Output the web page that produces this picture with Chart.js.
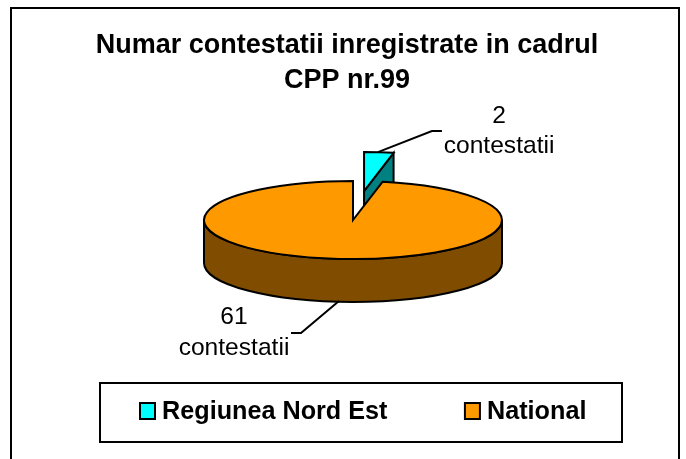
<!DOCTYPE html>
<html><head><meta charset="utf-8">
<style>html,body{margin:0;padding:0;background:#fff}#w{position:absolute;left:0;top:0;width:686px;height:459px}</style>
<script src="https://cdn.jsdelivr.net/npm/chart.js@4/dist/chart.umd.js"></script>
</head><body><div id="w"><canvas id="c" width="686" height="459"></canvas></div>
<script>
const categories = ['Regiunea Nord Est', 'National'];
const values = [2, 61];
const pointLabels = [['2', 'contestatii'], ['61', 'contestatii']];
const titleLines = ['Numar contestatii inregistrate in cadrul', 'CPP nr.99'];
const faceColors = ['#00FFFF', '#FF9900'];
const sideColors = ['#008080', '#804D00'];
const explode = [111, 0];

const squash = 39 / 149, depth = 43;
const frame = {l: 11, t: 8, r: 679, b: 480};
const legendBox = {l: 100, t: 383, r: 622, b: 442};

function ell(a) {
  const m = (a.startAngle + a.endAngle) / 2, o = a.options.offset || 0;
  return {cx: a.x + Math.cos(m) * o, cy: a.y + Math.sin(m) * o * squash, rx: a.outerRadius, ry: a.outerRadius * squash};
}
function drawSlice(ctx, a, i) {
  const e = ell(a), s = a.startAngle, t = a.endAngle, P = Math.PI;
  ctx.lineWidth = 2; ctx.strokeStyle = '#000'; ctx.lineJoin = 'miter';
  const ws = Math.max(s, 0), we = Math.min(t, P);
  if (we > ws) {
    ctx.beginPath();
    ctx.ellipse(e.cx, e.cy, e.rx, e.ry, 0, ws, we);
    ctx.ellipse(e.cx, e.cy + depth, e.rx, e.ry, 0, we, ws, true);
    ctx.closePath();
    ctx.fillStyle = sideColors[i]; ctx.fill(); ctx.stroke();
  }
  if (t - s < P) {
    const x = e.cx + e.rx * Math.cos(t), y = e.cy + e.ry * Math.sin(t);
    ctx.beginPath();
    ctx.moveTo(e.cx, e.cy); ctx.lineTo(x, y); ctx.lineTo(x, y + depth); ctx.lineTo(e.cx, e.cy + depth);
    ctx.closePath();
    ctx.fillStyle = sideColors[i]; ctx.fill(); ctx.stroke();
  }
  ctx.beginPath();
  ctx.moveTo(e.cx, e.cy);
  ctx.ellipse(e.cx, e.cy, e.rx, e.ry, 0, s, t);
  ctx.closePath();
  ctx.fillStyle = faceColors[i]; ctx.fill(); ctx.stroke();
}
function leader(ctx, pts) {
  ctx.beginPath();
  pts.forEach((p, k) => k ? ctx.lineTo(p[0], p[1]) : ctx.moveTo(p[0], p[1]));
  ctx.lineWidth = 2; ctx.strokeStyle = '#000'; ctx.stroke();
}
const pie3d = {
  id: 'pie3d',
  afterLayout(chart) {
    const lg = chart.legend, pad = lg.options.labels.padding;
    lg.left = 139.5 - pad;
    lg.top = 399.5 - pad;
    lg.bottom = 459;
    lg.right = 686;
    chart.titleBlock.left -= 6;
    chart.titleBlock.right -= 6;
  },
  beforeDraw(chart) {
    const ctx = chart.ctx;
    ctx.save(); ctx.strokeStyle = '#000'; ctx.lineWidth = 2;
    ctx.strokeRect(frame.l, frame.t, frame.r - frame.l, frame.b - frame.t);
    ctx.strokeRect(legendBox.l, legendBox.t, legendBox.r - legendBox.l, legendBox.b - legendBox.t);
    ctx.restore();
  },
  beforeDatasetDraw(chart, args) {
    const ctx = chart.ctx, arcs = chart.getDatasetMeta(args.index).data;
    ctx.save();
    drawSlice(ctx, arcs[0], 0);
    drawSlice(ctx, arcs[1], 1);
    const e0 = ell(arcs[0]), e1 = ell(arcs[1]);
    const tx = e0.cx + e0.rx * Math.sin(0.1), ty = e0.cy - e0.ry;
    leader(ctx, [[tx - 1, ty], [tx + 53, ty - 21], [tx + 63, ty - 21]]);
    const bx = e1.cx - 14, by = e1.cy + depth + e1.ry - 1;
    leader(ctx, [[bx, by], [bx - 38, by + 32], [bx - 48, by + 32]]);
    ctx.fillStyle = '#000'; ctx.font = '24.6px "Liberation Sans"';
    ctx.textAlign = 'center'; ctx.textBaseline = 'middle';
    pointLabels[0].forEach((s, k) => ctx.fillText(s, e0.cx + 135, e0.cy - 75 + k * 30));
    pointLabels[1].forEach((s, k) => ctx.fillText(s, e1.cx - 119, e1.cy + 97 + k * 31));
    ctx.restore();
    return false;
  },
  afterDraw(chart) {
    const ctx = chart.ctx, lg = chart.legend, h = lg.legendHitBoxes;
    ctx.save(); ctx.lineWidth = 2; ctx.strokeStyle = '#000';
    faceColors.forEach((c, i) => {
      const x = 140 + h[i].left - h[0].left;
      ctx.fillStyle = c;
      ctx.fillRect(x, 403, 15, 16); ctx.strokeRect(x, 403, 15, 16);
    });
    ctx.restore();
  }
};
Chart.defaults.font.family = '"Liberation Sans"';
new Chart(document.getElementById('c'), {
  type: 'pie',
  data: {
    labels: categories,
    datasets: [{
      data: values, backgroundColor: faceColors, borderColor: '#000', borderWidth: 2,
      offset: explode, radius: 149
    }]
  },
  plugins: [pie3d],
  options: {
    responsive: false, animation: false,
    layout: {padding: {left: 20, right: 0, top: 0, bottom: 57}},
    plugins: {
      tooltip: {enabled: false},
      title: {
        display: true, text: titleLines, color: '#000',
        font: {size: 27, weight: 'bold', lineHeight: 35 / 27},
        padding: {top: 28, bottom: 0}
      },
      legend: {
        position: 'bottom', align: 'start', maxHeight: 60,
        labels: {
          boxWidth: 10, boxHeight: 10, padding: 77, color: '#000', font: {size: 25.2, weight: 'bold'},
          generateLabels(chart) {
            return categories.map((t, i) => ({text: t, index: i, fillStyle: 'transparent', strokeStyle: 'transparent', lineWidth: 0, fontColor: '#000', hidden: false}));
          }
        }
      }
    }
  }
});
</script></body></html>
